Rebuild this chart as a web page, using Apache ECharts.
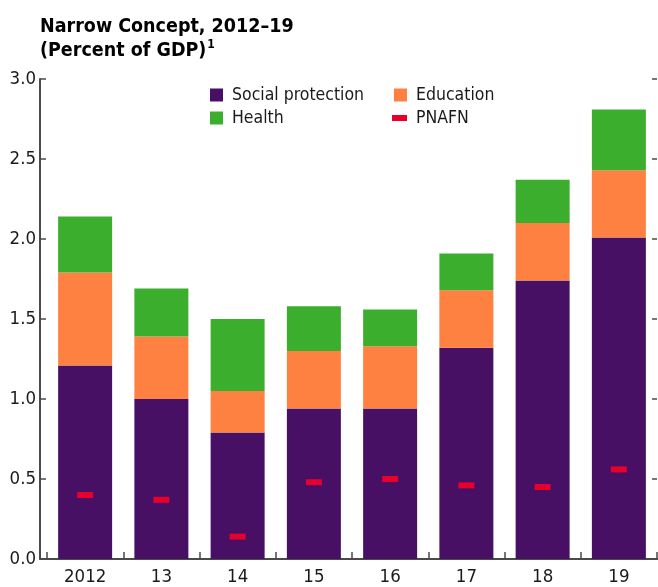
<!DOCTYPE html>
<html>
<head>
<meta charset="utf-8">
<script src="https://cdn.jsdelivr.net/npm/echarts@6/dist/echarts.min.js"></script>
<style>
  html, body { margin: 0; padding: 0; background: #fff; }
  #chart { width: 658px; height: 587px; }
</style>
</head>
<body>
<div id="chart"></div>
<script>
// Narrow concept of social spending, percent of GDP
const categories = ['2012', '13', '14', '15', '16', '17', '18', '19'];
const socialProtection = [1.21, 1.00, 0.79, 0.94, 0.94, 1.32, 1.74, 2.01];
const education = [0.58, 0.39, 0.26, 0.36, 0.39, 0.36, 0.36, 0.42];
const health = [0.35, 0.30, 0.45, 0.28, 0.23, 0.23, 0.27, 0.38];
const pnafn = [0.40, 0.37, 0.14, 0.48, 0.50, 0.46, 0.45, 0.56];

const FONT = '"Liberation Sans Narrow", "DejaVu Sans Condensed", "Liberation Sans", sans-serif';
const AXIS_COLOR = '#4a4a4a';
const TEXT_COLOR = '#1a1a1a';

const colors = {
  social: '#481064',
  education: '#FF8142',
  health: '#3CAE2E',
  pnafn: '#E6002E'
};

function legendItem(name, left, top, w, h) {
  return {
    data: [{ name: name, icon: 'rect' }],
    orient: 'vertical',
    left: left,
    top: top,
    padding: 0,
    itemWidth: w,
    itemHeight: h,
    selectedMode: false,
    itemStyle: { opacity: 1 },
    textStyle: {
      fontFamily: FONT,
      fontSize: 17.5,
      color: TEXT_COLOR,
      lineHeight: 13,
      padding: [0, 0, 0, 4]
    }
  };
}

const chart = echarts.init(document.getElementById('chart'), null, { renderer: 'canvas' });

chart.setOption({
  animation: false,
  backgroundColor: '#ffffff',
  title: {
    left: 40,
    top: 15,
    padding: 0,
    text: '{a|Narrow Concept, 2012–19}\n{a|(Percent of GDP)}{s|1}',
    textStyle: {
      rich: {
        a: { fontFamily: FONT, fontWeight: 'bold', fontSize: 19.5, lineHeight: 24, color: '#000' },
        s: { fontFamily: FONT, fontWeight: 'bold', fontSize: 12, lineHeight: 24, color: '#000', verticalAlign: 'top', padding: [0, 0, 8, 1] }
      }
    }
  },
  legend: [
    legendItem('Social protection', 210, 86, 13, 13),
    legendItem('Health', 210, 109, 13, 13),
    legendItem('Education', 394, 86, 13, 13),
    legendItem('PNAFN', 392, 109, 15, 6)
  ],
  grid: [
    { left: 47, right: 1, top: 79, bottom: 28 },
    { left: 40, right: 1, top: 79, bottom: 28 }
  ],
  xAxis: [
    {
      type: 'category',
      gridIndex: 0,
      data: categories,
      boundaryGap: true,
      axisLine: { show: true, lineStyle: { color: AXIS_COLOR, width: 2 } },
      axisTick: { show: true, inside: true, length: 7, alignWithLabel: false, lineStyle: { color: AXIS_COLOR, width: 1.5 } },
      axisLabel: { fontFamily: FONT, fontSize: 18.5, color: TEXT_COLOR, margin: 9 },
      splitLine: { show: false }
    },
    {
      // baseline running under the gap between the value axis and the first category
      type: 'value',
      gridIndex: 1,
      axisLine: { show: true, lineStyle: { color: AXIS_COLOR, width: 2 } },
      axisTick: { show: false },
      axisLabel: { show: false },
      splitLine: { show: false }
    }
  ],
  yAxis: [
    {
      type: 'value',
      gridIndex: 0,
      position: 'left',
      offset: 7,
      min: 0,
      max: 3,
      interval: 0.5,
      axisLine: { show: true, lineStyle: { color: AXIS_COLOR, width: 2 } },
      axisTick: { show: true, inside: true, length: 6, lineStyle: { color: AXIS_COLOR, width: 1.5 } },
      axisLabel: {
        fontFamily: FONT, fontSize: 18.5, color: TEXT_COLOR, margin: 4,
        formatter: v => v.toFixed(1)
      },
      splitLine: { show: false }
    },
    {
      type: 'value',
      gridIndex: 0,
      position: 'right',
      min: 0,
      max: 3,
      interval: 0.5,
      axisLine: { show: false },
      axisTick: { show: true, inside: true, length: 5, lineStyle: { color: AXIS_COLOR, width: 1.5 } },
      axisLabel: { show: false },
      splitLine: { show: false }
    },
    {
      type: 'value',
      gridIndex: 1,
      show: false
    }
  ],
  series: [
    {
      name: 'Social protection',
      type: 'bar',
      stack: 'total',
      barWidth: 54,
      itemStyle: { color: colors.social },
      data: socialProtection
    },
    {
      name: 'Education',
      type: 'bar',
      stack: 'total',
      barWidth: 54,
      itemStyle: { color: colors.education },
      data: education
    },
    {
      name: 'Health',
      type: 'bar',
      stack: 'total',
      barWidth: 54,
      itemStyle: { color: colors.health },
      data: health
    },
    {
      name: 'PNAFN',
      type: 'scatter',
      symbol: 'rect',
      symbolSize: [16, 6],
      z: 5,
      itemStyle: { color: colors.pnafn, opacity: 1 },
      data: pnafn
    }
  ]
});
</script>
</body>
</html>
